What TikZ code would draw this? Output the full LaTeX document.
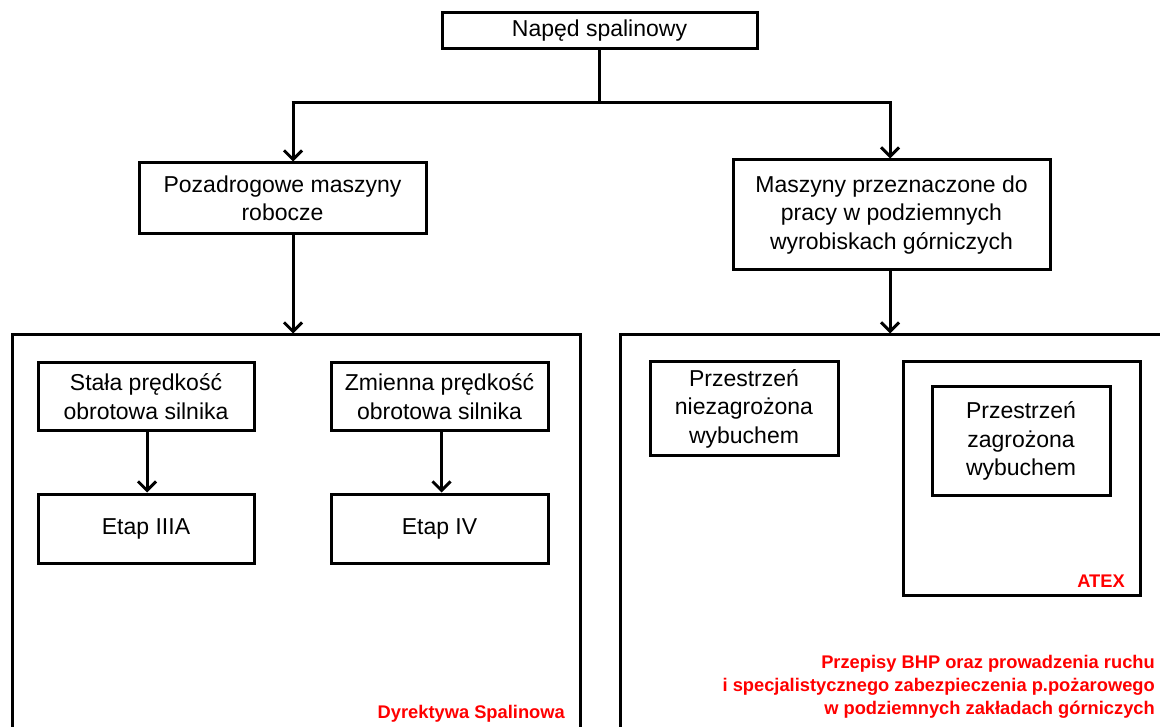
\documentclass[tikz,border=0pt]{standalone}
\usepackage{fontspec}
\setmainfont{Liberation Sans}
\usetikzlibrary{positioning}
\usetikzlibrary{arrows.meta}

\begin{document}
\begin{tikzpicture}[x=1pt, y=-1pt,
    box/.style={draw, line width=3pt, inner sep=0pt, align=center,
        font=\fontsize{23}{28.5}\selectfont},
    arr/.style={line width=3pt, -{Straight Barb[length=9pt, width=18pt]}},
    note/.style={text=red, font=\fontsize{18.3}{23}\selectfont\bfseries, align=right, inner sep=0pt}]
    \useasboundingbox (0,0) rectangle (1160,727);
    \clip (0,0) rectangle (1160,727);
    % top level
    \node[box, minimum width=315pt, minimum height=36pt] (naped) at (599.5,31) {Napęd spalinowy};
    \node[box, minimum width=287pt, minimum height=71pt] (poza) at (282.5,198.5) {Pozadrogowe maszyny\\robocze};
    \node[box, minimum width=317pt, minimum height=110pt] (masz) at (891.5,215) {Maszyny przeznaczone do\\pracy w podziemnych\\wyrobiskach górniczych};
    \coordinate (jl) at (293,103);
    \coordinate (jr) at (890,103);
    % big frames
    \node[box, minimum width=568pt, minimum height=465pt] (dyr) at (296,567.5) {};
    \node[box, minimum width=580pt, minimum height=465pt] (bhp) at (910,567.5) {};
    % left part
    \node[box, minimum width=216pt, minimum height=67pt] (stala) at (146,396.5) {Stała prędkość\\obrotowa silnika};
    \node[box, minimum width=217pt, minimum height=67pt] (zmienna) at (439.5,396.5) {Zmienna prędkość\\obrotowa silnika};
    \node[box, minimum width=216pt, minimum height=69pt] (etap3) at (146,528.5) {Etap IIIA};
    \node[box, minimum width=217pt, minimum height=69pt] (etap4) at (439.5,528.5) {Etap IV};
    % right part
    \node[box, minimum width=188pt, minimum height=93pt] (niezag) at (744,408.5) {Przestrzeń\\niezagrożona\\wybuchem};
    \node[box, minimum width=237pt, minimum height=233pt] (atex) at (1021.5,478.5) {};
    \node[box, minimum width=178pt, minimum height=108pt] (zag) at (1021,441) {Przestrzeń\\zagrożona\\wybuchem};
    % labels
    \node[note, anchor=east] (atexlbl) at (1125,581) {ATEX};
    \node[note, anchor=east] (dyrlbl) at (565,714) {Dyrektywa Spalinowa};
    \node[note, anchor=east] (bhplbl) at (1155,687) {Przepisy BHP oraz prowadzenia ruchu\\i specjalistycznego zabezpieczenia p.pożarowego\\w podziemnych zakładach górniczych};
    % connectors
    \draw[line width=3pt] (naped.south) -- (naped.south |- jl);
    \draw[line width=3pt] ([xshift=-1.5pt]jl) -- ([xshift=1.5pt]jr);
    \draw[arr] (jl) -- (jl |- poza.north);
    \draw[arr] (jr) -- (jr |- masz.north);
    \draw[arr] (poza.south -| jl) -- (jl |- dyr.north);
    \draw[arr] (masz.south -| jr) -- (jr |- bhp.north);
    \draw[arr] ([xshift=1pt]stala.south) -- ([xshift=1pt]etap3.north);
    \draw[arr] ([xshift=2pt]zmienna.south) -- ([xshift=2pt]etap4.north);
\end{tikzpicture}
\end{document}
